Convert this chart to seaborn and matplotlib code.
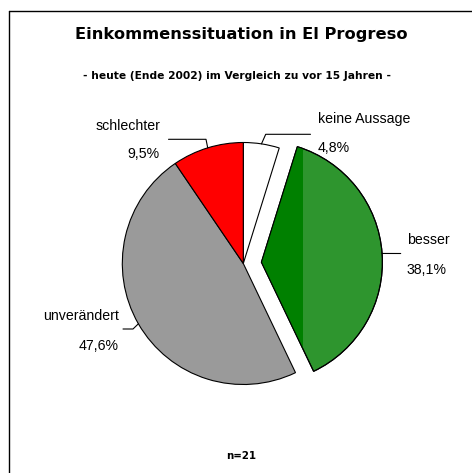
import matplotlib
matplotlib.use("Agg")
import matplotlib.pyplot as plt
import seaborn as sns
import numpy as np
from matplotlib.patches import Wedge, Rectangle
from matplotlib.lines import Line2D

# ---- data ----
categories = ["keine Aussage", "besser", "unverändert", "schlechter"]
percent = [4.8, 38.1, 47.6, 9.5]
pct_labels = ["4,8%", "38,1%", "47,6%", "9,5%"]
colors = ["#ffffff", "#2e952e", "#9a9a9a", "#ff0000"]
explode = [0, 0.15, 0, 0]
title = "Einkommenssituation in El Progreso"
subtitle = "- heute (Ende 2002) im Vergleich zu vor 15 Jahren -"
footer = "n=21"

sns.set_theme(style="white")
plt.rcParams['font.family'] = ['Liberation Sans', 'DejaVu Sans']
plt.rcParams['text.color'] = 'black'

W, H = 472, 473
fig = plt.figure(figsize=(W / 100, H / 100), dpi=100)
ax = fig.add_axes([0, 0, 1, 1])

def Y(y):
    return H - y

R = 121
cx, cy = 243.3, Y(263.5)
wedges, _ = ax.pie(percent, colors=colors, explode=[e * R for e in explode],
                   startangle=90, counterclock=False, radius=R, center=(cx, cy),
                   wedgeprops=dict(edgecolor="black", linewidth=0.8))
ax.set_xlim(0, W)
ax.set_ylim(0, H)
ax.set_aspect("equal")
ax.axis("off")

# darker shading on left part of the green slice
g = wedges[1]
gx = g.center[0]
rect = Rectangle((gx - 20, g.center[1] - R - 5), 20 + 42, 2 * R + 10,
                 facecolor="#008000", edgecolor="none", zorder=g.get_zorder() + 0.1)
rect.set_clip_path(g)
ax.add_patch(rect)
ax.add_patch(Wedge(g.center, g.r, g.theta1, g.theta2, fill=False,
                   edgecolor="black", linewidth=0.8, zorder=g.get_zorder() + 0.2))

# labels: (name position, pct position, alignment, elbow/end points of leader)
label_layout = {
    "keine Aussage": dict(x=318, yn=119, yp=148, ha="left",
                          path=[(265.7, 134.3), (310.5, 134.3)]),
    "besser": dict(x=407, yn=240.5, yp=270, ha="left",
                   path=[(400.7, 253.5)]),
    "unverändert": dict(x=118.5, yn=316, yp=346, ha="right",
                        path=[(133, 329), (123, 329)]),
    "schlechter": dict(x=160, yn=125.5, yp=154.5, ha="right",
                       path=[(206, 139.3), (168.5, 139.3)]),
}

for w, name, pl in zip(wedges, categories, pct_labels):
    lay = label_layout[name]
    mid = np.deg2rad((w.theta1 + w.theta2) / 2)
    sx = w.center[0] + w.r * np.cos(mid)
    sy = w.center[1] + w.r * np.sin(mid)
    xs = [sx] + [p[0] for p in lay["path"]]
    ys = [sy] + [Y(p[1]) for p in lay["path"]]
    ax.plot(xs, ys, color="black", linewidth=0.8, zorder=1)
    ax.text(lay["x"], Y(lay["yn"]), name, ha=lay["ha"], va="center",
            fontsize=10.2, color="black")
    ax.text(lay["x"], Y(lay["yp"]), pl, ha=lay["ha"], va="center",
            fontsize=10.2, color="black")

# titles
fig.text(241.5 / W, Y(35) / H, title, ha="center", va="center", color="black",
         fontsize=11.7, fontweight="heavy", family=["DejaVu Sans"])
fig.text(236.5 / W, Y(76) / H, subtitle, ha="center", va="center", color="black",
         fontsize=7.7, fontweight="bold", family=["DejaVu Sans"])
fig.text(241 / W, Y(456) / H, footer, ha="center", va="center", color="black",
         fontsize=7.4, fontweight="bold", family=["DejaVu Sans"])

# frame (top and left edges visible)
fig.add_artist(Line2D([8.5 / W, 1.0], [Y(11.5) / H, Y(11.5) / H],
                      color="black", linewidth=1.0, transform=fig.transFigure))
fig.add_artist(Line2D([8.5 / W, 8.5 / W], [Y(11.5) / H, 0.0],
                      color="black", linewidth=1.0, transform=fig.transFigure))

fig.savefig("out.png", dpi=100, facecolor="white")
